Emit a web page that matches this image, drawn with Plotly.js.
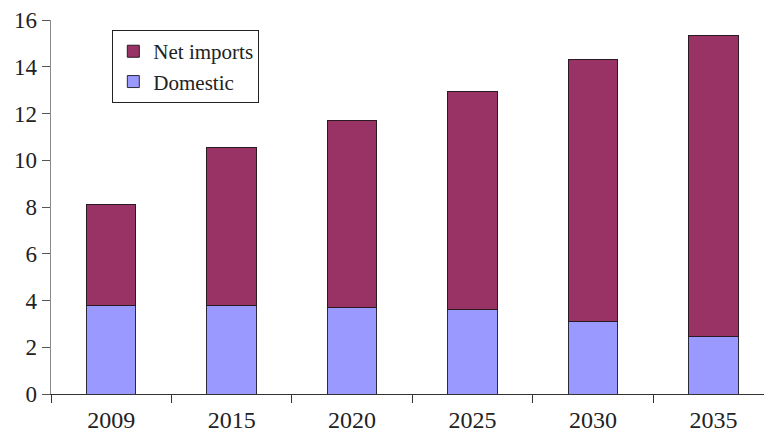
<!DOCTYPE html>
<html>
<head>
<meta charset="utf-8">
<script src="https://cdn.plot.ly/plotly-3.0.1.min.js"></script>
<style>html,body{margin:0;padding:0;background:#fff;}#chart{width:764px;height:432px;}</style>
</head>
<body>
<div id="chart"></div>
<script>
const years = ["2009", "2015", "2020", "2025", "2030", "2035"];
const domestic = [3.8, 3.8, 3.7, 3.6, 3.1, 2.45];
const netImports = [4.3, 6.75, 8.0, 9.35, 11.2, 12.9];
const yTicks = [0, 2, 4, 6, 8, 10, 12, 14, 16];

const font = {family: "Liberation Serif, Times New Roman, serif", color: "#222"};

const traces = [
  {type: "bar", name: "Domestic", x: years, y: domestic, width: 0.41,
   marker: {color: "#9999ff", line: {color: "#2a2a3a", width: 1}}},
  {type: "bar", name: "Net imports", x: years, y: netImports, width: 0.41,
   marker: {color: "#993366", line: {color: "#2a1a22", width: 1}}}
];

const layout = {
  width: 764, height: 432,
  margin: {l: 51, r: 0, t: 20, b: 38, pad: 0},
  paper_bgcolor: "#fff", plot_bgcolor: "#fff",
  barmode: "stack",
  showlegend: true,
  font: Object.assign({size: 23}, font),
  legend: {
    x: 0.086, y: 0.973, xanchor: "left", yanchor: "top",
    traceorder: "reversed",
    bordercolor: "#222", borderwidth: 1, bgcolor: "#fff",
    font: Object.assign({size: 21}, font),
    itemwidth: 30, tracegroupgap: 0
  },
  xaxis: {
    type: "category", range: [-0.5, 5.42],
    showline: true, linecolor: "#333", linewidth: 1,
    ticks: "outside", tickson: "boundaries", ticklen: 8, tickcolor: "#333",
    ticklabelstandoff: 4,
    showgrid: false, zeroline: false,
    tickfont: Object.assign({size: 24}, font)
  },
  yaxis: {
    range: [0, 16], tickvals: yTicks, ticktext: yTicks.map(String),
    showline: true, linecolor: "#8a8a8a", linewidth: 1.5,
    ticks: "outside", ticklen: 8, tickcolor: "#555",
    showgrid: false, zeroline: false,
    tickfont: Object.assign({size: 23}, font)
  }
};

Plotly.newPlot("chart", traces, layout, {staticPlot: true, displayModeBar: false});
</script>
</body>
</html>
